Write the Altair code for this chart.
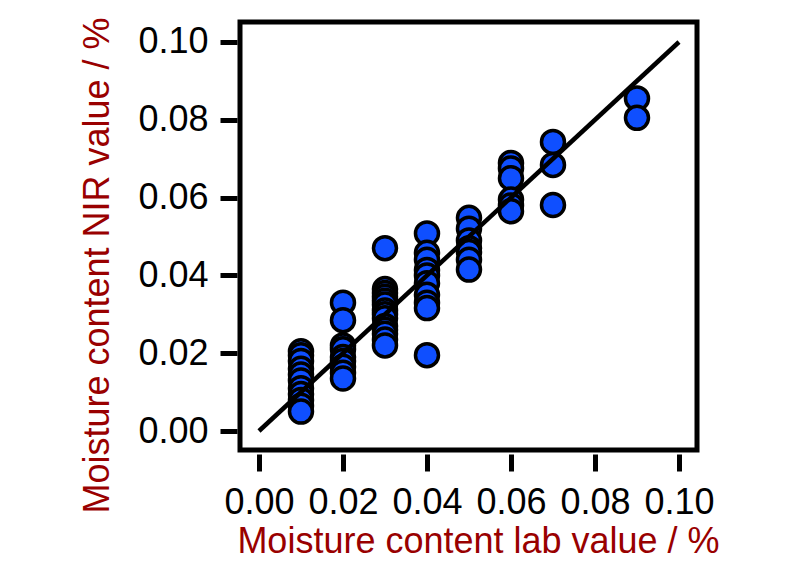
import altair as alt
import pandas as pd

# Lab values (x) and NIR predicted values (y)
lab_values = (
    [0.01] * 11 + [0.02] * 9 + [0.03] * 14 + [0.04] * 10
    + [0.05] * 7 + [0.06] * 6 + [0.07] * 3 + [0.09] * 2
)
nir_values = (
    [0.0205, 0.0195, 0.018, 0.016, 0.0145, 0.013, 0.011, 0.0095, 0.008, 0.0065, 0.005]
    + [0.033, 0.0285, 0.022, 0.021, 0.019, 0.018, 0.0165, 0.015, 0.0135]
    + [0.047, 0.0365, 0.0355, 0.0345, 0.0335, 0.0325, 0.031, 0.030, 0.029, 0.027, 0.026, 0.025, 0.0235, 0.022]
    + [0.0508, 0.0458, 0.044, 0.0414, 0.040, 0.038, 0.035, 0.033, 0.0316, 0.0195]
    + [0.0548, 0.052, 0.049, 0.047, 0.046, 0.044, 0.0415]
    + [0.0689, 0.0675, 0.065, 0.0595, 0.058, 0.0565]
    + [0.0743, 0.0684, 0.0581]
    + [0.0855, 0.0805]
)
line_x = [0.0, 0.1]
line_y = [0.0, 0.1]
tick_values = [0.0, 0.02, 0.04, 0.06, 0.08, 0.10]

pts = pd.DataFrame({"lab": lab_values, "nir": nir_values})
ln = pd.DataFrame({"lab": line_x, "nir": line_y})

FONT = "Liberation Sans"
TITLE_COLOR = "#990000"

x_scale = alt.Scale(domain=[-0.00452, 0.10429], nice=False, zero=False)
y_scale = alt.Scale(domain=[-0.00488, 0.10514], nice=False, zero=False)

x_axis = alt.Axis(
    title="Moisture content lab value / %",
    values=tick_values, format=".2f", grid=False, domain=False,
    offset=4, tickSize=17, tickWidth=5, tickColor="black",
    labelFont=FONT, labelFontSize=36, labelColor="black", labelPadding=14,
    labelOverlap=False, labelFlush=False,
    titleFont=FONT, titleFontSize=36, titleFontWeight="normal", titleColor=TITLE_COLOR,
    titleX=238, titleY=98, titleAlign="center", titleBaseline="alphabetic",
)
y_axis = alt.Axis(
    title="Moisture content NIR value / %",
    values=tick_values, format=".2f", grid=False, domain=False,
    offset=3, tickSize=17, tickWidth=5, tickColor="black",
    labelFont=FONT, labelFontSize=36, labelColor="black", labelPadding=12,
    labelOverlap=False, labelFlush=False,
    titleFont=FONT, titleFontSize=36, titleFontWeight="normal", titleColor=TITLE_COLOR,
    titleX=-129, titleY=243, titleAngle=270, titleAlign="center", titleBaseline="alphabetic",
)

points = alt.Chart(pts).mark_point(
    shape="circle", filled=True, fill="#0F4FFF", stroke="black",
    strokeWidth=3.5, size=529, opacity=1,
).encode(
    x=alt.X("lab:Q", scale=x_scale, axis=x_axis),
    y=alt.Y("nir:Q", scale=y_scale, axis=y_axis),
)

line = alt.Chart(ln).mark_line(color="black", strokeWidth=4.5).encode(
    x=alt.X("lab:Q", scale=x_scale),
    y=alt.Y("nir:Q", scale=y_scale),
)

chart = alt.layer(points, line).properties(
    width=457, height=428,
    padding={"left": 240, "top": 22, "right": 103, "bottom": 115},
    autosize=alt.AutoSizeParams(type="none"),
    background="white",
).configure_view(stroke="black", strokeWidth=5)

chart.save("out.html", embed_options={"renderer": "svg", "actions": False})
